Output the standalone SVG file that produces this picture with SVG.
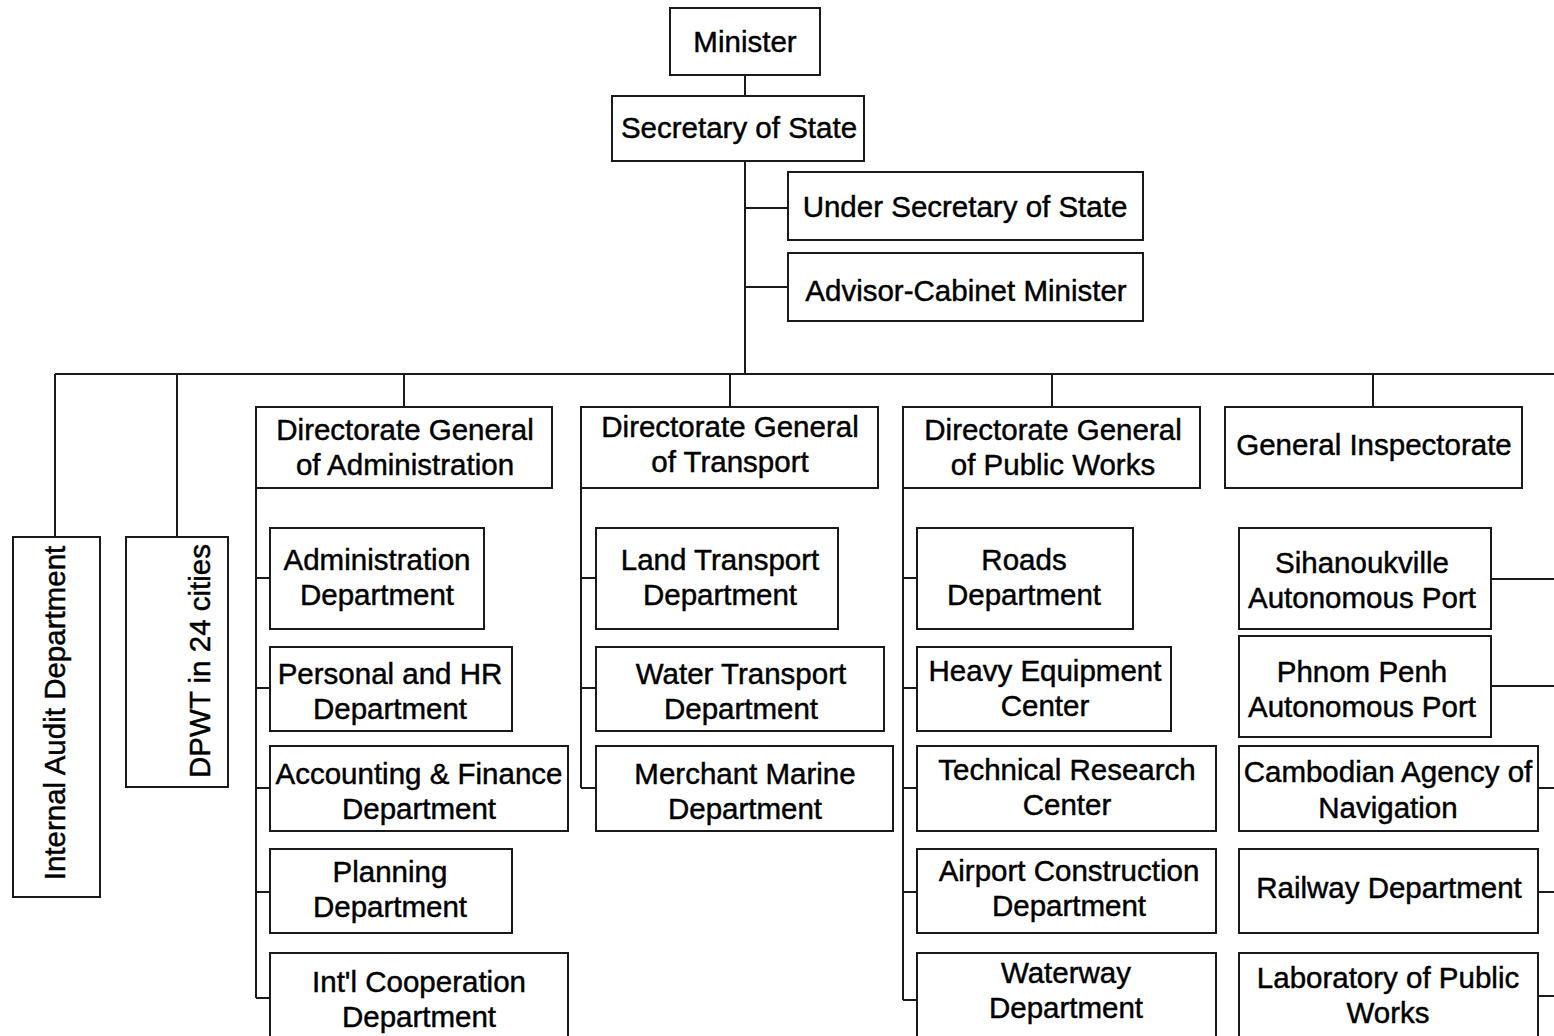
<svg xmlns="http://www.w3.org/2000/svg" width="1554" height="1036" viewBox="0 0 1554 1036">
<style>
.bg{fill:#fff}
.box{fill:#fff;stroke:#1a1a1a;stroke-width:2}
.ln{fill:none;stroke:#1a1a1a;stroke-width:2}
text{font-family:"Liberation Sans",Arial,sans-serif;font-size:29.5px;fill:#000;stroke:#000;stroke-width:0.45;text-anchor:middle}
</style>
<rect class="bg" x="0" y="0" width="1554" height="1036"/>
<g id="connectors">
<path class="ln" d="M745 75V96M745 161V374M745 208H788M745 287H788"/>
<path class="ln" d="M55 374H1554M55 374V537M177 374V537M404 374V407M730 374V407M1052 374V407M1373 374V407"/>
<path class="ln" d="M256 488V998M256 578H270M256 688H270M256 788H270M256 892H270M256 998H270"/>
<path class="ln" d="M581 488V788M581 578H596M581 688H596M581 788H596"/>
<path class="ln" d="M903 488V1000M903 578H917M903 688H917M903 788H917M903 892H917M903 1000H917"/>
<path class="ln" d="M1491 579H1554M1491 686H1554M1538 788H1554M1538 892H1554M1538 996H1554"/>
</g>
<g id="minister"><rect class="box" x="670" y="8" width="150" height="67"/><text x="745" y="52">Minister</text></g>
<g id="secretary"><rect class="box" x="612" y="96" width="252" height="65"/><text x="739" y="138">Secretary of State</text></g>
<g id="under-secretary"><rect class="box" x="788" y="172" width="355" height="68"/><text x="965" y="217">Under Secretary of State</text></g>
<g id="advisor"><rect class="box" x="788" y="253" width="355" height="68"/><text x="966" y="301">Advisor-Cabinet Minister</text></g>
<g id="internal-audit"><rect class="box" x="13" y="537" width="87" height="360"/><text transform="translate(65,713) rotate(-90)">Internal Audit Department</text></g>
<g id="dpwt"><rect class="box" x="126" y="537" width="102" height="250"/><text transform="translate(210,661) rotate(-90)">DPWT in 24 cities</text></g>
<g id="dg-admin"><rect class="box" x="256" y="407" width="296" height="81"/><text x="405" y="440">Directorate General</text><text x="405" y="475">of Administration</text></g>
<g id="dg-transport"><rect class="box" x="581" y="407" width="297" height="81"/><text x="730" y="437">Directorate General</text><text x="730" y="472">of Transport</text></g>
<g id="dg-publicworks"><rect class="box" x="903" y="407" width="297" height="81"/><text x="1053" y="440">Directorate General</text><text x="1053" y="475">of Public Works</text></g>
<g id="general-inspectorate"><rect class="box" x="1225" y="407" width="297" height="81"/><text x="1374" y="455">General Inspectorate</text></g>
<g id="administration-dept"><rect class="box" x="270" y="528" width="214" height="101"/><text x="377" y="570">Administration</text><text x="377" y="605">Department</text></g>
<g id="personal-hr"><rect class="box" x="270" y="647" width="242" height="84"/><text x="390" y="684">Personal and HR</text><text x="390" y="719">Department</text></g>
<g id="accounting"><rect class="box" x="270" y="746" width="298" height="85"/><text x="419" y="784">Accounting &amp; Finance</text><text x="419" y="819">Department</text></g>
<g id="planning"><rect class="box" x="270" y="849" width="242" height="84"/><text x="390" y="882">Planning</text><text x="390" y="917">Department</text></g>
<g id="intl-cooperation"><rect class="box" x="270" y="953" width="298" height="100"/><text x="419" y="992">Int'l Cooperation</text><text x="419" y="1027">Department</text></g>
<g id="land-transport"><rect class="box" x="596" y="528" width="242" height="101"/><text x="720" y="570">Land Transport</text><text x="720" y="605">Department</text></g>
<g id="water-transport"><rect class="box" x="596" y="647" width="288" height="84"/><text x="741" y="684">Water Transport</text><text x="741" y="719">Department</text></g>
<g id="merchant-marine"><rect class="box" x="596" y="746" width="297" height="85"/><text x="745" y="784">Merchant Marine</text><text x="745" y="819">Department</text></g>
<g id="roads"><rect class="box" x="917" y="528" width="216" height="101"/><text x="1024" y="570">Roads</text><text x="1024" y="605">Department</text></g>
<g id="heavy-equipment"><rect class="box" x="917" y="647" width="254" height="84"/><text x="1045" y="681">Heavy Equipment</text><text x="1045" y="716">Center</text></g>
<g id="technical-research"><rect class="box" x="917" y="746" width="299" height="85"/><text x="1067" y="780">Technical Research</text><text x="1067" y="815">Center</text></g>
<g id="airport-construction"><rect class="box" x="917" y="849" width="299" height="84"/><text x="1069" y="881">Airport Construction</text><text x="1069" y="916">Department</text></g>
<g id="waterway"><rect class="box" x="917" y="953" width="299" height="100"/><text x="1066" y="983">Waterway</text><text x="1066" y="1018">Department</text></g>
<g id="sihanoukville"><rect class="box" x="1239" y="528" width="252" height="101"/><text x="1362" y="573">Sihanoukville</text><text x="1362" y="608">Autonomous Port</text></g>
<g id="phnom-penh"><rect class="box" x="1239" y="636" width="252" height="101"/><text x="1362" y="682">Phnom Penh</text><text x="1362" y="717">Autonomous Port</text></g>
<g id="cambodian-agency"><rect class="box" x="1239" y="746" width="299" height="85"/><text x="1388" y="782">Cambodian Agency of</text><text x="1388" y="818">Navigation</text></g>
<g id="railway"><rect class="box" x="1239" y="849" width="299" height="84"/><text x="1389" y="898">Railway Department</text></g>
<g id="laboratory"><rect class="box" x="1239" y="953" width="299" height="100"/><text x="1388" y="988">Laboratory of Public</text><text x="1388" y="1023">Works</text></g>
</svg>
